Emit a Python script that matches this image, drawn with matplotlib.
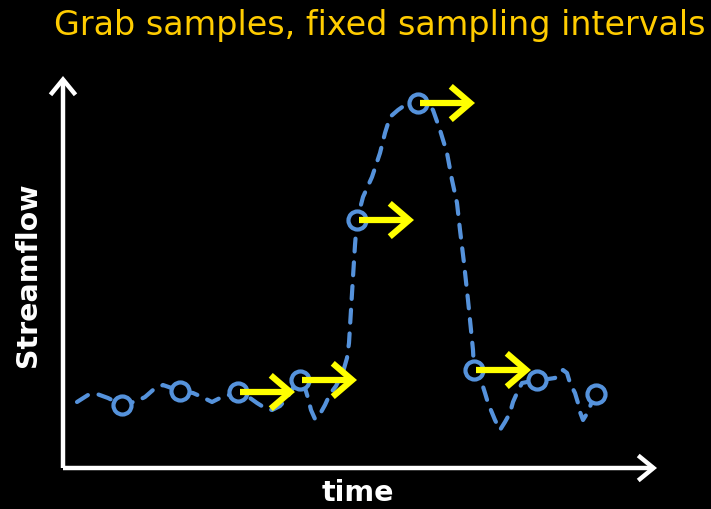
import matplotlib
matplotlib.use("Agg")
import matplotlib.pyplot as plt
from matplotlib.patches import FancyArrowPatch, ArrowStyle

# 数据：时间(横向位置)与流量(纵向位置)，以坐标原点为零点
time = [14, 25, 34, 45, 59, 74, 82, 90, 100, 117, 130, 139, 149, 157, 175,
        187, 194, 202, 209, 217, 224, 230, 237, 242, 245, 248, 252, 257, 262,
        267, 273, 280, 284, 286, 288, 290, 292, 294, 300, 309, 317, 322, 327,
        335, 345, 355, 365, 370, 377, 384, 389, 394, 397, 401, 405, 408, 410,
        411, 417, 422, 425, 432, 437, 442, 447, 450, 454, 459, 474, 485, 492,
        497, 500, 504, 507, 512, 515, 517, 520, 525, 528, 532]
flow = [66, 73, 74, 70, 63, 67, 71, 78, 83, 77, 75, 71, 66, 70, 76,
        70, 65, 60, 58, 62, 70, 80, 88, 80, 70, 58, 49, 54, 63,
        74, 82, 96, 110, 125, 158, 191, 223, 248, 271, 291, 315, 335, 351,
        358, 365, 365, 364, 358, 338, 315, 288, 265, 238, 205, 168, 138, 118,
        98, 91, 75, 65, 48, 38, 46, 55, 66, 75, 85, 88, 89, 90,
        96, 98, 95, 85, 75, 65, 56, 48, 56, 64, 75]

# 采样点（固定间隔）
sample_t = [59, 117, 175, 237, 294, 355, 411, 474, 533]
sample_q = [63, 77, 76, 88, 248, 365, 98, 88, 74]

# 箭头：从第3到第7个采样点向右保持采样值
arrow_idx = [2, 3, 4, 5, 6]
arrow_len = 57

blue = "#5592db"
yellow = "#ffff00"
gold = "#ffcc00"

fig = plt.figure(figsize=(7.11, 5.09), dpi=100, facecolor="black")
ax = fig.add_axes([0, 0, 1, 1], facecolor="black")
ax.set_xlim(-63, 648)
ax.set_ylim(-41, 468)
ax.axis("off")

# 坐标轴（带箭头）
axis_style = ArrowStyle("->", head_length=11, head_width=9)
for end in [(0, 392), (594, 0)]:
    ax.add_patch(FancyArrowPatch((0, 0), end, arrowstyle=axis_style,
                                 mutation_scale=1, color="white", lw=3.2,
                                 shrinkA=0, shrinkB=0, joinstyle="miter",
                                 capstyle="butt", zorder=2))

# 流量曲线（虚线）
ax.plot(time, flow, color=blue, lw=3.0, dashes=(3.1, 2.6),
        dash_capstyle="round", solid_capstyle="round", zorder=3)

# 采样点圆圈
ax.plot(sample_t, sample_q, ls="none", marker="o", ms=13, mew=3.0,
        mec=blue, mfc="black", zorder=4)

# 黄色箭头
arrow_style = ArrowStyle("->", head_length=14, head_width=12)
for i in arrow_idx:
    ax.add_patch(FancyArrowPatch((sample_t[i] + 2, sample_q[i]),
                                 (sample_t[i] + arrow_len, sample_q[i]),
                                 arrowstyle=arrow_style, mutation_scale=1,
                                 color=yellow, lw=4.5, shrinkA=0, shrinkB=0,
                                 capstyle="butt", joinstyle="miter", zorder=5))

fig.text(0.992, 1 - 9 / 509, "Grab samples, fixed sampling intervals",
         color=gold, fontsize=24, family="DejaVu Sans", ha="right", va="top")
fig.text(28 / 711, 1 - 275 / 509, "Streamflow", color="white", fontsize=20.5,
         fontweight="bold", rotation=90, ha="center", va="center")
fig.text(358 / 711, 1 - 493 / 509, "time", color="white", fontsize=20.5,
         fontweight="bold", ha="center", va="center")

fig.savefig("out.png", dpi=100, facecolor="black")
